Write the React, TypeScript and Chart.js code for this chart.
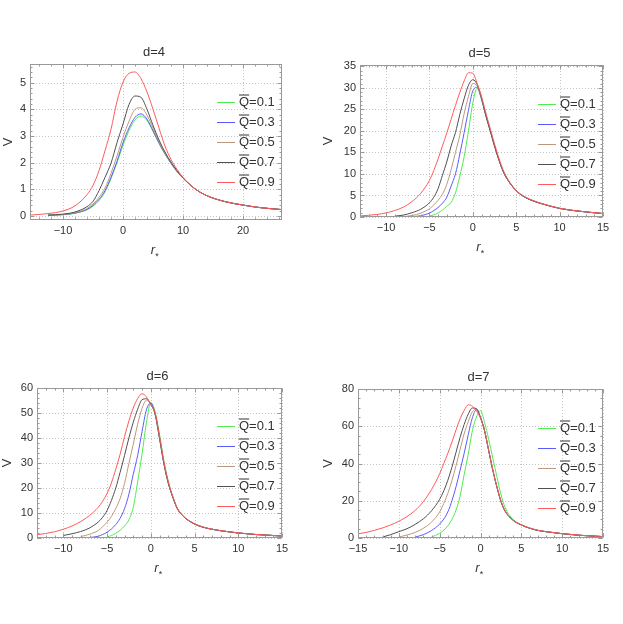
import { useEffect, useRef } from 'react';
import { Chart, registerables } from 'chart.js';

Chart.register(...registerables);

// legend entries, lowest Q first
const qValues = ['0.1', '0.3', '0.5', '0.7', '0.9'];
const curveColors = ['rgb(80,235,80)', 'rgb(90,90,255)', 'rgb(190,150,125)', 'rgb(80,80,80)', 'rgb(255,90,90)'];

// d=4
const r4 = [-15.5, -12.5, -10, -8, -6, -5, -4, -3, -2, -1, 0, 1, 2, 3, 4, 5, 6, 7, 8, 9, 10, 12, 14, 17, 20, 23, 26.5];
const v4q01 = [null, 0.03, 0.05, 0.1, 0.23, 0.37, 0.58, 0.9, 1.4, 2.0, 2.65, 3.2, 3.6, 3.75, 3.58, 3.17, 2.72, 2.32, 1.97, 1.66, 1.42, 1.02, 0.76, 0.54, 0.41, 0.31, 0.24];
const v4q03 = [null, 0.03, 0.05, 0.11, 0.25, 0.4, 0.62, 0.95, 1.45, 2.05, 2.75, 3.3, 3.7, 3.83, 3.63, 3.2, 2.74, 2.33, 1.98, 1.67, 1.42, 1.02, 0.76, 0.54, 0.41, 0.31, 0.24];
const v4q05 = [null, 0.03, 0.06, 0.12, 0.28, 0.45, 0.7, 1.05, 1.6, 2.25, 2.95, 3.55, 4.0, 4.06, 3.78, 3.3, 2.78, 2.35, 2.0, 1.68, 1.42, 1.02, 0.76, 0.54, 0.41, 0.31, 0.24];
const v4q07 = [null, 0.03, 0.07, 0.15, 0.35, 0.55, 0.95, 1.45, 1.98, 2.75, 3.45, 4.18, 4.5, 4.45, 4.0, 3.4, 2.85, 2.4, 2.02, 1.7, 1.43, 1.02, 0.76, 0.54, 0.41, 0.31, 0.24];
const v4q09 = [0.035, 0.09, 0.19, 0.38, 0.8, 1.15, 1.7, 2.45, 3.25, 4.3, 5.02, 5.35, 5.4, 5.15, 4.65, 4.0, 3.3, 2.62, 2.12, 1.75, 1.45, 1.02, 0.76, 0.54, 0.41, 0.31, 0.24];

// d=5
const r5 = [-13, -11, -10, -9, -8, -7, -6, -5, -4.5, -4, -3.5, -3, -2.5, -2, -1.5, -1, -0.5, 0, 0.5, 1, 1.5, 2, 2.5, 3, 3.5, 4, 5, 6, 7, 8, 10, 12, 15];
const v5q01 = [null, null, null, null, null, null, null, 0.2, 0.5, 0.95, 1.6, 2.5, 3.4, 5.6, 9.5, 14.0, 20.0, 26.5, 29.9, 27.3, 23.6, 20.1, 16.5, 13.3, 10.6, 8.7, 6.1, 4.6, 3.7, 3.05, 2.0, 1.4, 0.8];
const v5q03 = [null, null, null, null, null, 0.08, 0.3, 0.9, 1.5, 2.2, 3.2, 4.6, 7.2, 10.0, 14.6, 19.6, 24.8, 29.3, 30.1, 27.4, 23.6, 20.1, 16.5, 13.3, 10.6, 8.7, 6.1, 4.6, 3.7, 3.05, 2.0, 1.4, 0.8];
const v5q05 = [null, null, null, null, 0.1, 0.35, 0.9, 1.9, 2.8, 3.9, 5.3, 7.6, 11.0, 15.0, 19.0, 24.0, 28.0, 31.0, 30.4, 27.5, 23.6, 20.1, 16.5, 13.3, 10.6, 8.7, 6.1, 4.6, 3.7, 3.05, 2.0, 1.4, 0.8];
const v5q07 = [null, null, null, 0.2, 0.45, 1.0, 1.8, 3.3, 4.6, 6.6, 9.7, 12.8, 16.5, 19.6, 23.8, 27.5, 30.6, 31.9, 30.8, 27.7, 23.6, 20.1, 16.5, 13.3, 10.6, 8.7, 6.1, 4.6, 3.7, 3.05, 2.0, 1.4, 0.8];
const v5q09 = [0.25, 0.6, 0.95, 1.5, 2.3, 3.6, 5.5, 8.5, 10.8, 13.5, 16.5, 19.5, 22.7, 25.9, 28.9, 31.6, 33.5, 33.4, 31.0, 28.0, 24.2, 20.6, 17.0, 13.7, 10.9, 8.9, 6.2, 4.7, 3.8, 3.1, 2.05, 1.42, 0.82];

// d=6
const r6 = [-13, -12, -11, -10, -9, -8, -7, -6, -5.5, -5, -4.5, -4, -3.5, -3, -2.5, -2, -1.5, -1, -0.5, 0, 0.5, 1, 1.5, 2, 2.5, 3, 3.5, 4, 5, 6, 7, 8, 10, 12, 15];
const v6q01 = [null, null, null, null, null, null, null, null, null, 0.4, 1.0, 1.9, 3.1, 4.8, 7.3, 12.2, 22.5, 33.5, 46.0, 54.2, 50.5, 41.5, 31.0, 22.8, 16.8, 12.2, 9.6, 7.8, 5.6, 4.3, 3.5, 2.9, 2.0, 1.4, 0.8];
const v6q03 = [null, null, null, null, null, null, 0.2, 0.7, 1.4, 2.3, 3.6, 5.4, 7.9, 11.7, 17.5, 25.5, 33.0, 42.5, 51.2, 54.0, 49.5, 40.0, 29.8, 22.0, 16.5, 12.0, 9.5, 7.8, 5.6, 4.3, 3.5, 2.9, 2.0, 1.4, 0.8];
const v6q05 = [null, null, null, null, null, 0.6, 1.5, 3.0, 4.5, 6.3, 8.6, 11.8, 15.8, 21.8, 29.8, 37.5, 45.5, 51.8, 55.1, 53.7, 49.5, 40.0, 29.8, 22.0, 16.5, 12.0, 9.5, 7.8, 5.6, 4.3, 3.5, 2.9, 2.0, 1.4, 0.8];
const v6q07 = [null, null, null, 1.0, 1.7, 2.6, 4.0, 6.4, 8.3, 11.0, 15.0, 20.0, 26.3, 33.0, 40.0, 46.3, 51.5, 55.3, 55.7, 53.5, 49.5, 40.0, 29.8, 22.0, 16.5, 12.0, 9.5, 7.8, 5.6, 4.3, 3.5, 2.9, 2.0, 1.4, 0.8];
const v6q09 = [1.3, 1.8, 2.5, 3.5, 4.8, 6.6, 9.0, 12.3, 14.7, 17.8, 22.0, 27.5, 33.5, 40.5, 46.8, 52.0, 55.8, 57.7, 56.5, 53.3, 50.0, 40.8, 30.5, 22.5, 16.8, 12.2, 9.6, 7.9, 5.7, 4.4, 3.55, 2.95, 2.05, 1.42, 0.82];

// d=7
const r7 = [-15, -14, -13, -12, -11, -10, -9, -8, -7, -6, -5, -4.5, -4, -3.5, -3, -2.5, -2, -1.5, -1, -0.5, 0, 0.5, 1, 1.5, 2, 2.5, 3, 4, 5, 6, 7, 8, 10, 12, 15];
const v7q01 = [null, null, null, null, null, null, null, null, null, 0.5, 2.5, 4.2, 6.5, 10.0, 15.0, 22.5, 34.0, 45.0, 57.5, 65.0, 68.4, 62.0, 53.0, 43.0, 33.0, 23.5, 16.5, 10.0, 7.1, 5.3, 4.1, 3.4, 2.3, 1.5, 0.75];
const v7q03 = [null, null, null, null, null, null, null, 0.5, 1.8, 4.0, 7.5, 10.2, 14.0, 20.0, 27.5, 36.3, 45.5, 55.5, 64.5, 68.8, 65.0, 57.5, 47.0, 36.5, 27.5, 19.7, 14.5, 9.5, 7.0, 5.3, 4.1, 3.4, 2.3, 1.5, 0.75];
const v7q05 = [null, null, null, null, null, 0.5, 1.6, 3.0, 5.2, 8.5, 14.0, 18.5, 24.0, 30.8, 38.8, 47.5, 56.0, 62.5, 67.8, 69.2, 64.6, 57.5, 47.0, 36.5, 27.5, 19.7, 14.5, 9.5, 7.0, 5.3, 4.1, 3.4, 2.3, 1.5, 0.75];
const v7q07 = [null, null, null, 0.5, 1.8, 3.4, 5.0, 7.3, 10.3, 14.6, 20.8, 25.3, 31.0, 38.0, 46.0, 54.0, 61.0, 66.5, 69.8, 69.5, 64.5, 57.5, 47.0, 36.5, 27.5, 19.7, 14.5, 9.5, 7.0, 5.3, 4.1, 3.4, 2.3, 1.5, 0.75];
const v7q09 = [2.2, 3.0, 4.1, 5.4, 7.0, 9.0, 11.5, 14.8, 19.5, 26.0, 34.5, 40.0, 45.5, 51.5, 58.0, 64.0, 68.5, 71.5, 70.8, 68.3, 64.3, 57.6, 47.2, 36.8, 27.8, 20.0, 14.7, 9.6, 7.1, 5.4, 4.2, 3.45, 2.35, 1.55, 0.78];

// tick marks
const xTicks4 = [-10, 0, 10, 20];
const yTicks4 = [0, 1, 2, 3, 4, 5];
const xTicks5 = [-10, -5, 0, 5, 10, 15];
const yTicks5 = [0, 5, 10, 15, 20, 25, 30, 35];
const xTicks6 = [-10, -5, 0, 5, 10, 15];
const yTicks6 = [0, 10, 20, 30, 40, 50, 60];
const xTicks7 = [-15, -10, -5, 0, 5, 10, 15];
const yTicks7 = [0, 20, 40, 60, 80];

const FONT = '"Liberation Sans", Arial, sans-serif';
const TEXT = '#333';

interface PanelSpec {
  title: string;
  r: number[];
  series: (number | null)[][];
  xMin: number; xMax: number; xTicks: number[]; xMinor: number;
  yMin: number; yMax: number; yTicks: number[]; yMinor: number;
  left: number; top: number; width: number; height: number;
  area: { left: number; top: number; right: number; bottom: number };
  vDx: number;
}

const panels: PanelSpec[] = [
  {
    title: 'd=4', r: r4, series: [v4q01, v4q03, v4q05, v4q07, v4q09],
    xMin: -15.5, xMax: 26.5, xTicks: xTicks4, xMinor: 2,
    yMin: -0.15, yMax: 5.7, yTicks: yTicks4, yMinor: 0.2,
    left: 0, top: 0, width: 311, height: 312,
    area: { left: 30, top: 64, right: 282, bottom: 220 }, vDx: 22,
  },
  {
    title: 'd=5', r: r5, series: [v5q01, v5q03, v5q05, v5q07, v5q09],
    xMin: -13, xMax: 15, xTicks: xTicks5, xMinor: 1,
    yMin: 0, yMax: 35.3, yTicks: yTicks5, yMinor: 1,
    left: 311, top: 0, width: 312, height: 312,
    area: { left: 49, top: 65, right: 292, bottom: 217 }, vDx: 32,
  },
  {
    title: 'd=6', r: r6, series: [v6q01, v6q03, v6q05, v6q07, v6q09],
    xMin: -13, xMax: 15, xTicks: xTicks6, xMinor: 1,
    yMin: 0, yMax: 60, yTicks: yTicks6, yMinor: 2,
    left: 0, top: 312, width: 311, height: 312,
    area: { left: 37, top: 76, right: 282, bottom: 226 }, vDx: 30,
  },
  {
    title: 'd=7', r: r7, series: [v7q01, v7q03, v7q05, v7q07, v7q09],
    xMin: -15, xMax: 15, xTicks: xTicks7, xMinor: 1,
    yMin: 0, yMax: 80, yTicks: yTicks7, yMinor: 5,
    left: 311, top: 312, width: 312, height: 312,
    area: { left: 47, top: 77, right: 292, bottom: 226 }, vDx: 30,
  },
];

const fmt = (v: number) => String(v).replace('-', '\u2212');

function minorValues(min: number, max: number, step: number, majors: number[]) {
  const out: number[] = [];
  for (let k = Math.ceil(min / step - 1e-9); k <= Math.floor(max / step + 1e-9); k++) {
    const v = +(k * step).toFixed(6);
    if (!majors.some(m => Math.abs(m - v) < 1e-6)) out.push(v);
  }
  return out;
}

// dotted grid, gray frame with inward ticks, titles and the legend
const framePlugin = {
  id: 'frame',
  beforeDatasetsDraw(chart: any, _args: any, opts: any) {
    const { ctx, chartArea: a, scales } = chart;
    ctx.save();
    ctx.strokeStyle = '#c4c4c4';
    ctx.lineWidth = 1;
    ctx.setLineDash([1, 2]);
    ctx.beginPath();
    for (const v of opts.spec.xTicks) {
      const px = Math.round(scales.x.getPixelForValue(v)) + 0.5;
      ctx.moveTo(px, a.top);
      ctx.lineTo(px, a.bottom);
    }
    for (const v of opts.spec.yTicks) {
      const py = Math.round(scales.y.getPixelForValue(v)) + 0.5;
      ctx.moveTo(a.left, py);
      ctx.lineTo(a.right, py);
    }
    ctx.stroke();
    ctx.restore();
  },
  afterDraw(chart: any, _args: any, opts: any) {
    const { ctx, chartArea: a, scales } = chart;
    const s: PanelSpec = opts.spec;
    const L = Math.round(a.left) + 0.5, R = Math.round(a.right) - 0.5;
    const T = Math.round(a.top) + 0.5, B = Math.round(a.bottom) - 0.5;
    ctx.save();
    ctx.strokeStyle = '#999';
    ctx.lineWidth = 1;
    ctx.strokeRect(L, T, R - L, B - T);

    ctx.beginPath();
    const xTick = (v: number, len: number) => {
      const px = Math.round(scales.x.getPixelForValue(v)) + 0.5;
      ctx.moveTo(px, B); ctx.lineTo(px, B - len);
      ctx.moveTo(px, T); ctx.lineTo(px, T + len);
    };
    const yTick = (v: number, len: number) => {
      const py = Math.round(scales.y.getPixelForValue(v)) + 0.5;
      ctx.moveTo(L, py); ctx.lineTo(L + len, py);
      ctx.moveTo(R, py); ctx.lineTo(R - len, py);
    };
    s.xTicks.forEach(v => xTick(v, 4));
    s.yTicks.forEach(v => yTick(v, 4));
    minorValues(s.xMin, s.xMax, s.xMinor, s.xTicks).forEach(v => xTick(v, 2));
    minorValues(s.yMin, s.yMax, s.yMinor, s.yTicks).forEach(v => yTick(v, 2));
    ctx.stroke();

    const midX = (a.left + a.right) / 2;
    ctx.fillStyle = TEXT;

    // title
    ctx.font = `13px ${FONT}`;
    ctx.textAlign = 'center';
    ctx.textBaseline = 'middle';
    ctx.fillText(s.title, midX - 2, a.top - 12);

    // y title
    ctx.save();
    ctx.translate(a.left - s.vDx, (a.top + a.bottom) / 2);
    ctx.rotate(-Math.PI / 2);
    ctx.fillText('V', 0, 0);
    ctx.restore();

    // x title: italic r with a subscript star
    ctx.textBaseline = 'alphabetic';
    ctx.textAlign = 'center';
    ctx.font = `italic 13px ${FONT}`;
    const rw = ctx.measureText('r').width;
    ctx.fillText('r', midX - 3, a.bottom + 34);
    ctx.font = `9px ${FONT}`;
    ctx.textAlign = 'left';
    ctx.fillText('*', midX - 3 + rw / 2, a.bottom + 39);

    // legend
    ctx.font = `13px ${FONT}`;
    ctx.textBaseline = 'middle';
    ctx.textAlign = 'left';
    qValues.forEach((q, i) => {
      const y = 2 * Math.round((a.top + 38 + i * 20) / 2) + 0.5;
      ctx.strokeStyle = curveColors[i];
      ctx.beginPath();
      ctx.moveTo(a.right - 65, y);
      ctx.lineTo(a.right - 47, y);
      ctx.stroke();
      const x0 = a.right - 43;
      ctx.fillStyle = TEXT;
      ctx.fillText('Q', x0, y);
      const qw = ctx.measureText('Q').width;
      ctx.strokeStyle = TEXT;
      ctx.beginPath();
      ctx.moveTo(x0, y - 7.5);
      ctx.lineTo(x0 + qw, y - 7.5);
      ctx.stroke();
      ctx.fillText('=' + q, x0 + qw, y);
    });
    ctx.restore();
  },
};

function Panel({ spec }: { spec: PanelSpec }) {
  const canvasRef = useRef<HTMLCanvasElement>(null);

  useEffect(() => {
    if (!canvasRef.current) return;
    const a = spec.area;
    // red (last) first so it is drawn on top
    const datasets = spec.series.map((vals, i) => ({
      label: 'Q=' + qValues[i],
      data: spec.r.map((x, j) => ({ x, y: vals[j] })).filter(p => p.y !== null),
      borderColor: curveColors[i],
      borderWidth: 1,
      pointRadius: 0,
      fill: false,
      cubicInterpolationMode: 'monotone' as const,
    })).reverse();

    const chart = new Chart(canvasRef.current, {
      type: 'line',
      data: { datasets },
      options: {
        responsive: false,
        animation: false,
        events: [],
        layout: {
          padding: { left: 0, top: a.top, right: spec.width - a.right, bottom: spec.height - a.bottom - 20 },
        },
        plugins: {
          legend: { display: false },
          tooltip: { enabled: false },
          frame: { spec },
        } as any,
        scales: {
          x: {
            type: 'linear',
            min: spec.xMin,
            max: spec.xMax,
            grid: { display: false, drawTicks: false },
            border: { display: false },
            afterBuildTicks: (sc: any) => { sc.ticks = spec.xTicks.map(v => ({ value: v })); },
            afterFit: (sc: any) => { sc.height = 20; },
            ticks: {
              autoSkip: false, maxRotation: 0, padding: 4, color: TEXT,
              font: { family: FONT, size: 11 },
              callback: (v: any) => fmt(Number(v)),
            },
          },
          y: {
            type: 'linear',
            min: spec.yMin,
            max: spec.yMax,
            grid: { display: false, drawTicks: false },
            border: { display: false },
            afterBuildTicks: (sc: any) => { sc.ticks = spec.yTicks.map(v => ({ value: v })); },
            afterFit: (sc: any) => { sc.width = a.left; },
            ticks: {
              autoSkip: false, padding: 4, color: TEXT,
              font: { family: FONT, size: 11 },
              callback: (v: any) => fmt(Number(v)),
            },
          },
        },
      },
      plugins: [framePlugin],
    });

    return () => chart.destroy();
  }, [spec]);

  return (
    <canvas
      ref={canvasRef}
      width={spec.width}
      height={spec.height}
      style={{ position: 'absolute', left: spec.left, top: spec.top }}
    />
  );
}

export default function App() {
  return (
    <div style={{ position: 'absolute', left: 0, top: 0, width: 623, height: 624, background: '#fff' }}>
      {panels.map(p => <Panel key={p.title} spec={p} />)}
    </div>
  );
}
